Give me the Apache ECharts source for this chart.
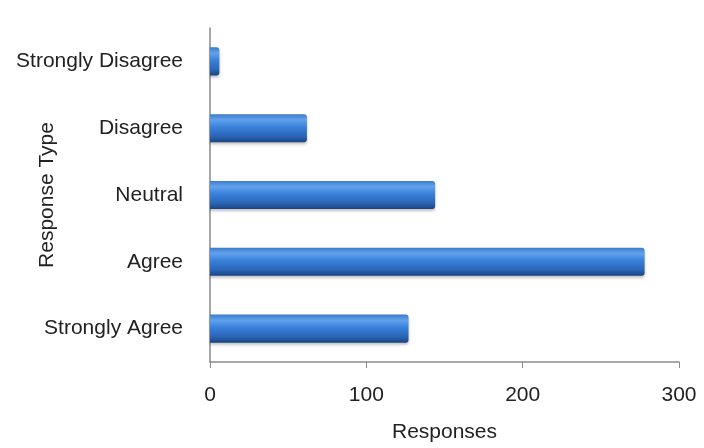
<!DOCTYPE html>
<html>
<head>
<meta charset="utf-8">
<script src="https://cdn.jsdelivr.net/npm/echarts@6/dist/echarts.min.js"></script>
<style>
html,body{margin:0;padding:0;background:#fff;}
#chart{width:704px;height:448px;}
</style>
</head>
<body>
<div id="chart"></div>
<script>
const categories = ["Strongly Agree", "Agree", "Neutral", "Disagree", "Strongly Disagree"];
const responses = [127, 278, 144, 62, 6];
const xTicks = [0, 100, 200, 300];

const chart = echarts.init(document.getElementById('chart'));
const font = 'Liberation Sans, Arial, sans-serif';
chart.setOption({
  backgroundColor: '#ffffff',
  animation: false,
  grid: {left: 210, right: 25, top: 28, bottom: 86, containLabel: false, outerBoundsMode: 'none'},
  xAxis: {
    type: 'value',
    min: xTicks[0],
    max: xTicks[xTicks.length - 1],
    interval: 100,
    name: 'Responses',
    nameLocation: 'middle',
    nameGap: 60,
    nameMoveOverlap: false,
    nameTextStyle: {fontFamily: font, fontSize: 21, color: '#222'},
    axisLine: {show: true, lineStyle: {color: '#8a8a8a', width: 1.5}},
    axisTick: {show: true, length: 6, lineStyle: {color: '#8a8a8a'}},
    axisLabel: {fontFamily: font, fontSize: 21, color: '#222', margin: 23},
    splitLine: {show: false}
  },
  yAxis: {
    type: 'category',
    data: categories,
    name: 'Response Type',
    nameLocation: 'middle',
    nameGap: 152,
    nameMoveOverlap: false,
    nameTextStyle: {fontFamily: font, fontSize: 21, color: '#222'},
    axisLine: {show: true, lineStyle: {color: '#8a8a8a', width: 1.5}},
    axisTick: {show: false},
    axisLabel: {fontFamily: font, fontSize: 21, color: '#222', margin: 27}
  },
  series: [{
    type: 'bar',
    data: responses,
    barWidth: '42%',
    itemStyle: {
      color: new echarts.graphic.LinearGradient(0, 0, 0, 1, [
        {offset: 0, color: '#3b7bcc'},
        {offset: 0.2, color: '#62a2ec'},
        {offset: 0.45, color: '#3a82dc'},
        {offset: 0.8, color: '#2a64b4'},
        {offset: 1, color: '#1a4380'}
      ]),
      borderRadius: [0, 3, 3, 0],
      shadowColor: 'rgba(0,0,0,0.25)',
      shadowBlur: 3,
      shadowOffsetY: 2
    }
  }]
});
</script>
</body>
</html>
